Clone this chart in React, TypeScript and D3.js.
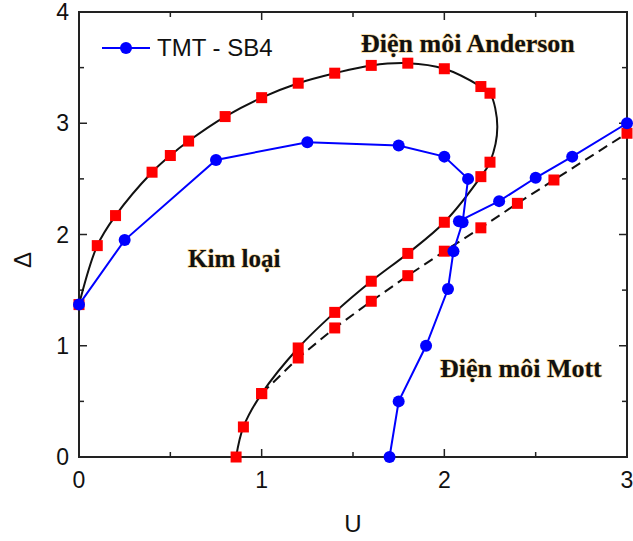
import React from "react";
import * as d3 from "d3";

// axis ticks
const U_TICKS = [0, 1, 2, 3];
const DELTA_TICKS = [0, 1, 2, 3, 4];
const U_MINOR = [0.5, 1.5, 2.5];
const DELTA_MINOR = [0.5, 1.5, 2.5, 3.5];

// black solid boundary (red squares)
const solidU = [0, 0.1, 0.2, 0.4, 0.5, 0.6, 0.8, 1.0, 1.2, 1.4, 1.6, 1.8, 2.0, 2.2, 2.25, 2.25, 2.2, 2.0, 1.8, 1.6, 1.4, 1.2, 1.0, 0.9, 0.86];
const solidD = [1.37, 1.9, 2.17, 2.56, 2.71, 2.84, 3.06, 3.23, 3.36, 3.45, 3.52, 3.54, 3.49, 3.33, 3.27, 2.65, 2.52, 2.11, 1.83, 1.58, 1.3, 0.98, 0.57, 0.27, 0.0];
// where the solid curve bulges out between the two squares at U = 2.25
const apexU = 2.29;
const apexD = 2.97;
const apexAfter = 14;

// black dashed boundary (red squares)
const dashU = [1.0, 1.2, 1.4, 1.6, 1.8, 2.0, 2.2, 2.4, 2.6, 3.0];
const dashD = [0.57, 0.89, 1.16, 1.4, 1.63, 1.85, 2.06, 2.28, 2.49, 2.91];

// TMT - SB4 (blue circles)
const blueU = [0, 0.25, 0.75, 1.25, 1.75, 2.0, 2.13, 2.1, 2.05, 2.02, 1.9, 1.75, 1.7];
const blueD = [1.37, 1.95, 2.67, 2.83, 2.8, 2.7, 2.5, 2.11, 1.85, 1.51, 1.0, 0.5, 0.0];
const branchU = [2.08, 2.3, 2.5, 2.7, 3.0];
const branchD = [2.12, 2.3, 2.51, 2.7, 3.0];

const W = 633;
const H = 541;
const margin = { left: 79, right: 6, top: 12, bottom: 84 };

const zip = (u: number[], d: number[]) => u.map((v, i) => [v, d[i]] as [number, number]);

const App = () => {
  const x = d3.scaleLinear().domain([0, 3]).range([margin.left, W - margin.right]);
  const y = d3.scaleLinear().domain([0, 4]).range([H - margin.bottom, margin.top]);

  const solidPts = zip(solidU, solidD);
  const solidLinePts = [
    ...solidPts.slice(0, apexAfter + 1),
    [apexU, apexD] as [number, number],
    ...solidPts.slice(apexAfter + 1),
  ];
  const dashPts = zip(dashU, dashD);
  const bluePts = zip(blueU, blueD);
  const branchPts = zip(branchU, branchD);

  const smooth = d3
    .line<[number, number]>()
    .x((p) => x(p[0]))
    .y((p) => y(p[1]))
    .curve(d3.curveCatmullRom.alpha(0.5));
  const straight = d3
    .line<[number, number]>()
    .x((p) => x(p[0]))
    .y((p) => y(p[1]));

  const sq = 11;
  const x0 = x(0), x1 = x(3), y0 = y(0), y1 = y(4);
  const sans = "'Liberation Sans', Arial, sans-serif";
  const serif = "'Liberation Serif', 'Times New Roman', serif";

  const label = (text: string, lx: number, ly: number, size: number) => (
    <text
      x={lx}
      y={ly}
      fontFamily={serif}
      fontWeight="bold"
      fontSize={size}
      fill="#111"
      stroke="#f2c46a"
      strokeWidth={1.3}
      strokeOpacity={0.7}
      style={{ paintOrder: "stroke" }}
    >
      {text}
    </text>
  );

  return (
    <svg width={W} height={H} style={{ position: "absolute", left: 0, top: 0, background: "#fff" }}>
      {/* ticks, inward on all four sides */}
      <g stroke="#222" strokeWidth={1.5}>
        {U_TICKS.map((t) => (
          <g key={"ux" + t}>
            <line x1={x(t)} x2={x(t)} y1={y0} y2={y0 - 8} />
            <line x1={x(t)} x2={x(t)} y1={y1} y2={y1 + 8} />
          </g>
        ))}
        {U_MINOR.map((t) => (
          <g key={"um" + t}>
            <line x1={x(t)} x2={x(t)} y1={y0} y2={y0 - 5} />
            <line x1={x(t)} x2={x(t)} y1={y1} y2={y1 + 5} />
          </g>
        ))}
        {DELTA_TICKS.map((t) => (
          <g key={"dy" + t}>
            <line x1={x0} x2={x0 + 8} y1={y(t)} y2={y(t)} />
            <line x1={x1} x2={x1 - 8} y1={y(t)} y2={y(t)} />
          </g>
        ))}
        {DELTA_MINOR.map((t) => (
          <g key={"dm" + t}>
            <line x1={x0} x2={x0 + 5} y1={y(t)} y2={y(t)} />
            <line x1={x1} x2={x1 - 5} y1={y(t)} y2={y(t)} />
          </g>
        ))}
      </g>
      <rect x={x0} y={y1} width={x1 - x0} height={y0 - y1} fill="none" stroke="#222" strokeWidth={2} />

      {/* tick labels */}
      <g fontFamily={sans} fontSize={23} fill="#111">
        {U_TICKS.map((t) => (
          <text key={"ul" + t} x={x(t)} y={y0 + 31} textAnchor="middle">
            {t}
          </text>
        ))}
        {DELTA_TICKS.map((t) => (
          <text key={"dl" + t} x={x0 - 10} y={y(t) + 8} textAnchor="end">
            {t}
          </text>
        ))}
      </g>
      <text x={(x0 + x1) / 2} y={532} textAnchor="middle" fontFamily={sans} fontSize={24} fill="#111">
        U
      </text>
      <text
        transform={`translate(31,260) rotate(-90)`}
        textAnchor="middle"
        fontFamily={sans}
        fontSize={24}
        fill="#111"
      >
        Δ
      </text>

      {/* black boundaries */}
      <path d={smooth(solidLinePts) ?? ""} fill="none" stroke="#111" strokeWidth={2} />
      <path d={straight(dashPts) ?? ""} fill="none" stroke="#111" strokeWidth={2} strokeDasharray="10,6" />
      {[...solidPts, ...dashPts].map((p, i) => (
        <rect key={"sq" + i} x={x(p[0]) - sq / 2} y={y(p[1]) - sq / 2} width={sq} height={sq} fill="#ff0000" />
      ))}

      {/* TMT - SB4 */}
      <path d={straight(bluePts) ?? ""} fill="none" stroke="#0000ff" strokeWidth={2} />
      <path d={straight(branchPts) ?? ""} fill="none" stroke="#0000ff" strokeWidth={2} />
      {[...bluePts, ...branchPts].map((p, i) => (
        <circle key={"c" + i} cx={x(p[0])} cy={y(p[1])} r={6} fill="#0000ff" />
      ))}

      {/* legend */}
      <line x1={102} x2={150} y1={48} y2={48} stroke="#0000ff" strokeWidth={2} />
      <circle cx={126} cy={48} r={6} fill="#0000ff" />
      <text x={157} y={56} fontFamily={sans} fontSize={24} fill="#111">
        TMT - SB4
      </text>

      {label("Điện môi Anderson", 361, 52, 26)}
      {label("Kim loại", 188, 267, 25)}
      {label("Điện môi Mott", 440, 377, 26)}
    </svg>
  );
};

export default App;
